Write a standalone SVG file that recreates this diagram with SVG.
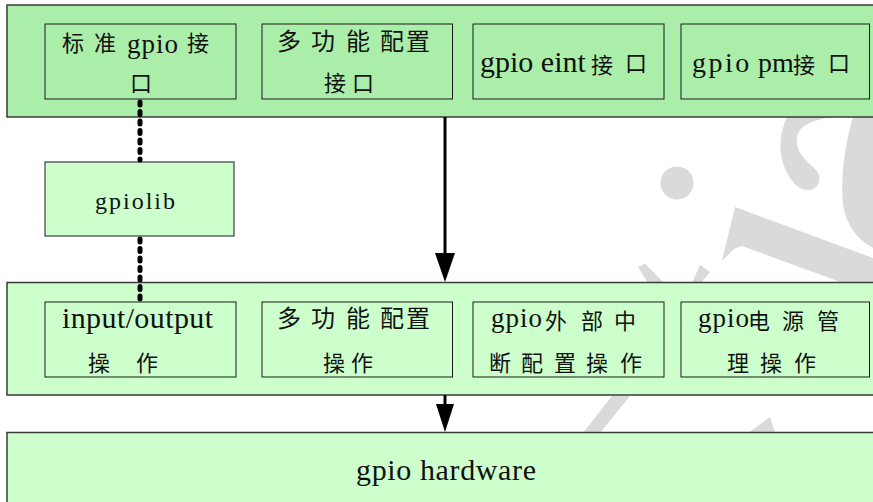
<svg xmlns="http://www.w3.org/2000/svg" width="873" height="502" viewBox="0 0 873 502">
<style>
.wm{fill:#dadada;stroke:none}
.band1{fill:#aaeeaa;stroke:#3a3a3a;stroke-width:1.5}
.band2{fill:#ccffcc;stroke:#3a3a3a;stroke-width:1.5}
.box1{fill:#aaeeaa;stroke:#1a1a1a;stroke-width:1}
.box2{fill:#ccffcc;stroke:#1a1a1a;stroke-width:1}
text{font-family:"Liberation Serif","Noto Sans CJK SC",serif;fill:#111}
.cj{font-family:"Noto Sans CJK SC",sans-serif;font-size:22px}
.cjl{font-family:"Noto Sans CJK SC",sans-serif;font-size:24px}
.lat{font-family:"Liberation Serif",serif;font-size:27px;letter-spacing:1px}
.dot{stroke:#000;stroke-width:5;stroke-linecap:round;stroke-dasharray:3 6.5;fill:none}
.arr{stroke:#000;stroke-width:3;fill:none}
.head{fill:#000}
</style>
<g id="watermark">
<circle class="wm" cx="677" cy="183" r="16.5"/>
<path class="wm" d="M787 117 C780 132 778 150 784 166 C790 182 800 191 809 190 C819 189 823 178 816 170 C807 161 796 154 797 139 C798 127 808 121 832 117 Z"/>
<path class="wm" d="M853 117 C846 140 840 175 843 205 C846 225 858 240 873 248 L873 117 Z"/>
<path class="wm" d="M735 207 L873 258 L873 283 L843 283 L742 246 L734 249 L722 261 Z"/>
<path class="wm" d="M638 267 L645 263.5 L664 283 L648 283 Z"/>
<path class="wm" d="M700 265 L710 272 L701 283 L692 283 Z"/>
<path class="wm" d="M583 433 L600 433 L630 396 L612 396 Z"/>
<path class="wm" d="M748 433 L775 433 L770 417 Z"/>
</g>
<g id="layer-interface">
<rect class="band1" x="7" y="5" width="880" height="112"/>
</g>
<g id="layer-ops">
<rect class="band2" x="7" y="282.5" width="880" height="112.5"/>
</g>
<g id="gpio-hardware">
<rect class="band2" x="7" y="432.5" width="880" height="80"/>
<text x="446" y="480" font-size="30" text-anchor="middle" textLength="180" lengthAdjust="spacing">gpio hardware</text>
</g>
<g id="std-gpio-if">
<rect class="box1" x="45" y="24" width="191" height="75"/>
<text y="51"><tspan class="cj" x="62">标 </tspan><tspan class="cj" x="94">准 </tspan><tspan class="lat" x="127" y="53" letter-spacing="2">gpio</tspan><tspan class="cj" x="187" y="51">接</tspan></text>
<text class="cj" x="130" y="91">口</text>
</g>
<g id="mux-if">
<rect class="box1" x="262" y="24" width="190.5" height="75"/>
<text class="cjl" x="277 311 346 380 406" y="50">多功能配置</text>
<text class="cj" x="324 352" y="91">接口</text>
</g>
<g id="eint-if">
<rect class="box1" x="473" y="24" width="191" height="75"/>
<text y="72"><tspan x="480" font-size="30">gpio eint</tspan><tspan class="cj" x="591" y="73">接 </tspan><tspan class="cj" x="625" y="71" font-size="18">口</tspan></text>
</g>
<g id="pm-if">
<rect class="box1" x="681" y="24" width="188.5" height="75"/>
<text y="72"><tspan x="692" font-size="28" letter-spacing="2.5">gpio </tspan><tspan x="758" font-size="28">pm</tspan><tspan class="cj" x="793" y="73">接 </tspan><tspan class="cj" x="828" y="71" font-size="18">口</tspan></text>
</g>
<g id="gpiolib">
<rect class="box2" x="45" y="162" width="189" height="74"/>
<text x="95" y="209" font-size="24" letter-spacing="2">gpiolib</text>
</g>
<g id="io-op">
<rect class="box2" x="45" y="302" width="191" height="75"/>
<text x="62" y="328" font-size="30" textLength="151" lengthAdjust="spacing">input/output</text>
<text class="cj" x="88 136" y="371">操作</text>
</g>
<g id="mux-op">
<rect class="box2" x="262" y="302" width="190.5" height="75"/>
<text class="cjl" x="277 311 346 380 406" y="327">多功能配置</text>
<text class="cj" x="323 351" y="371">操作</text>
</g>
<g id="eint-op">
<rect class="box2" x="473" y="302" width="191" height="75"/>
<text y="327"><tspan class="lat" x="491">gpio</tspan><tspan class="cj" x="545" y="329">外 </tspan><tspan class="cj" x="581">部 </tspan><tspan class="cj" x="614">中</tspan></text>
<text class="cj" x="489 521 554 586 620" y="371">断配置操作</text>
</g>
<g id="pm-op">
<rect class="box2" x="681" y="302" width="188.5" height="75"/>
<text y="327"><tspan class="lat" x="698" letter-spacing="0">gpio</tspan><tspan class="cj" x="748" y="329">电 </tspan><tspan class="cj" x="782">源 </tspan><tspan class="cj" x="817">管</tspan></text>
<text class="cj" x="727 760 794" y="371">理操作</text>
</g>
<g id="connectors">
<line class="dot" x1="140" y1="102" x2="140" y2="160"/>
<line class="dot" x1="140" y1="239" x2="140" y2="300"/>
<line class="arr" x1="445" y1="117" x2="445" y2="256"/>
<polygon class="head" points="435,253 455,253 445,282"/>
<line class="arr" x1="445" y1="395" x2="445" y2="406"/>
<polygon class="head" points="436,404 454,404 445,432"/>
</g>
</svg>
